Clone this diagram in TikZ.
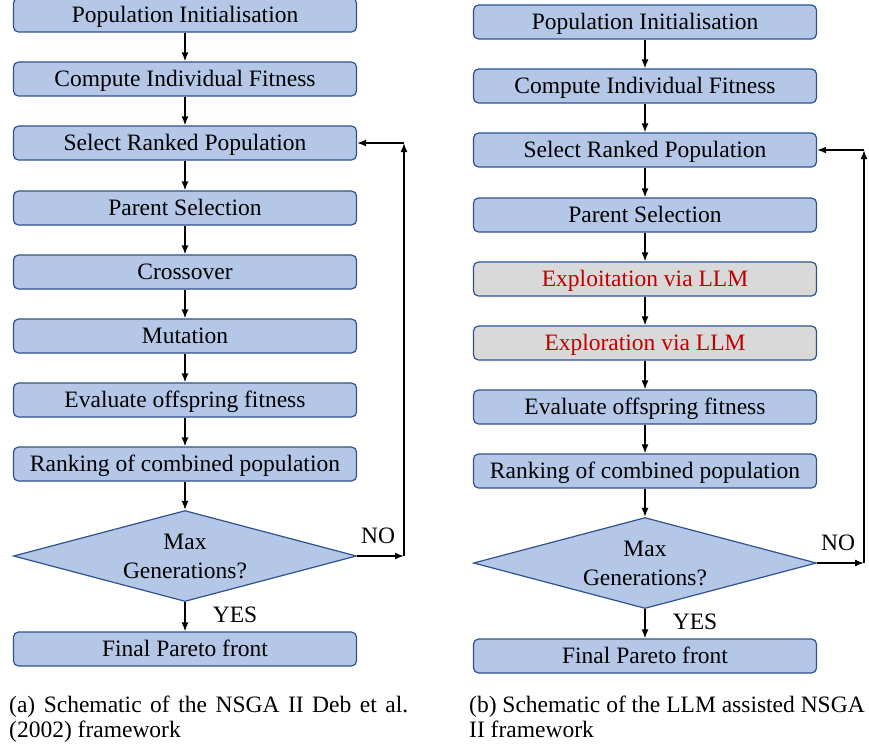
\documentclass[tikz,border=0pt]{standalone}
\usepackage{fontspec}
\setmainfont{Liberation Serif}
\usetikzlibrary{shapes.geometric,arrows.meta}
\definecolor{boxblue}{HTML}{B4C7E7}
\definecolor{boxedge}{HTML}{2F528F}
\definecolor{boxgray}{HTML}{D9D9D9}
\definecolor{llmred}{HTML}{C00000}
\begin{document}
\begin{tikzpicture}[x=1pt,y=-1pt,
  every node/.style={font=\fontsize{23.5}{29}\selectfont},
  stepbox/.style={draw=boxedge, fill=boxblue, rounded corners=5pt, line width=1.2pt,
    minimum width=343pt, minimum height=34pt, inner sep=0pt,
    text height=16pt, text depth=0.5pt},
  llmbox/.style={stepbox, fill=boxgray, text=llmred},
  decision/.style={diamond, draw=boxedge, fill=boxblue, line width=1.2pt,
    minimum width=343pt, minimum height=91pt, inner sep=0pt, aspect=3.77, align=center},
  arr/.style={-{Latex[length=9pt,width=7pt]}, line width=1.5pt},
  lbl/.style={inner sep=0pt}]
\useasboundingbox (0,0) rectangle (869,748);

% ---------- left panel ----------
\node[stepbox] (a1) at (185,15)  {Population Initialisation};
\node[stepbox] (a2) at (185,79)  {Compute Individual Fitness};
\node[stepbox] (a3) at (185,143) {Select Ranked Population};
\node[stepbox] (a4) at (185,208) {Parent Selection};
\node[stepbox] (a5) at (185,272) {Crossover};
\node[stepbox] (a6) at (185,336) {Mutation};
\node[stepbox] (a7) at (185,400) {Evaluate offspring fitness};
\node[stepbox] (a8) at (185,464) {Ranking of combined population};
\node[decision] (ad) at (185,556) {Max\\Generations?};
\node[stepbox] (a9) at (185,649) {Final Pareto front};
\coordinate (ac1) at (404,556);
\coordinate (ac2) at (404,143);

\draw[arr] (a1) -- (a2);
\draw[arr] (a2) -- (a3);
\draw[arr] (a3) -- (a4);
\draw[arr] (a4) -- (a5);
\draw[arr] (a5) -- (a6);
\draw[arr] (a6) -- (a7);
\draw[arr] (a7) -- (a8);
\draw[arr] (a8) -- (ad);
\draw[arr] (ad) -- (a9);
\draw[arr] (ad.east) -- (ac1);
\draw[arr] (ac1) -- (ac2);
\draw[arr] (ac2) -- (a3.east);
\node[lbl] (ano) at (378,536) {NO};
\node[lbl] (ayes) at (235,615) {YES};
\node[lbl, anchor=base west] (capa1) at (9,712) {\makebox[399pt][s]{(a) Schematic of the NSGA II Deb et al.}};
\node[lbl, anchor=base west] (capa2) at (9,737) {(2002) framework};

% ---------- right panel ----------
\node[stepbox] (b1) at (645,22)  {Population Initialisation};
\node[stepbox] (b2) at (645,86)  {Compute Individual Fitness};
\node[stepbox] (b3) at (645,150) {Select Ranked Population};
\node[stepbox] (b4) at (645,215) {Parent Selection};
\node[llmbox]  (b5) at (645,279) {Exploitation via LLM};
\node[llmbox]  (b6) at (645,343) {Exploration via LLM};
\node[stepbox] (b7) at (645,407) {Evaluate offspring fitness};
\node[stepbox] (b8) at (645,471) {Ranking of combined population};
\node[decision] (bd) at (645,563) {Max\\Generations?};
\node[stepbox] (b9) at (645,656) {Final Pareto front};
\coordinate (bc1) at (864,563);
\coordinate (bc2) at (864,150);

\draw[arr] (b1) -- (b2);
\draw[arr] (b2) -- (b3);
\draw[arr] (b3) -- (b4);
\draw[arr] (b4) -- (b5);
\draw[arr] (b5) -- (b6);
\draw[arr] (b6) -- (b7);
\draw[arr] (b7) -- (b8);
\draw[arr] (b8) -- (bd);
\draw[arr] (bd) -- (b9);
\draw[arr] (bd.east) -- (bc1);
\draw[arr] (bc1) -- (bc2);
\draw[arr] (bc2) -- (b3.east);
\node[lbl] (bno) at (838,543) {NO};
\node[lbl] (byes) at (695,622) {YES};
\node[lbl, anchor=base west] (capb1) at (469,712) {(b) Schematic of the LLM assisted NSGA};
\node[lbl, anchor=base west] (capb2) at (469,737) {II framework};
\end{tikzpicture}
\end{document}
